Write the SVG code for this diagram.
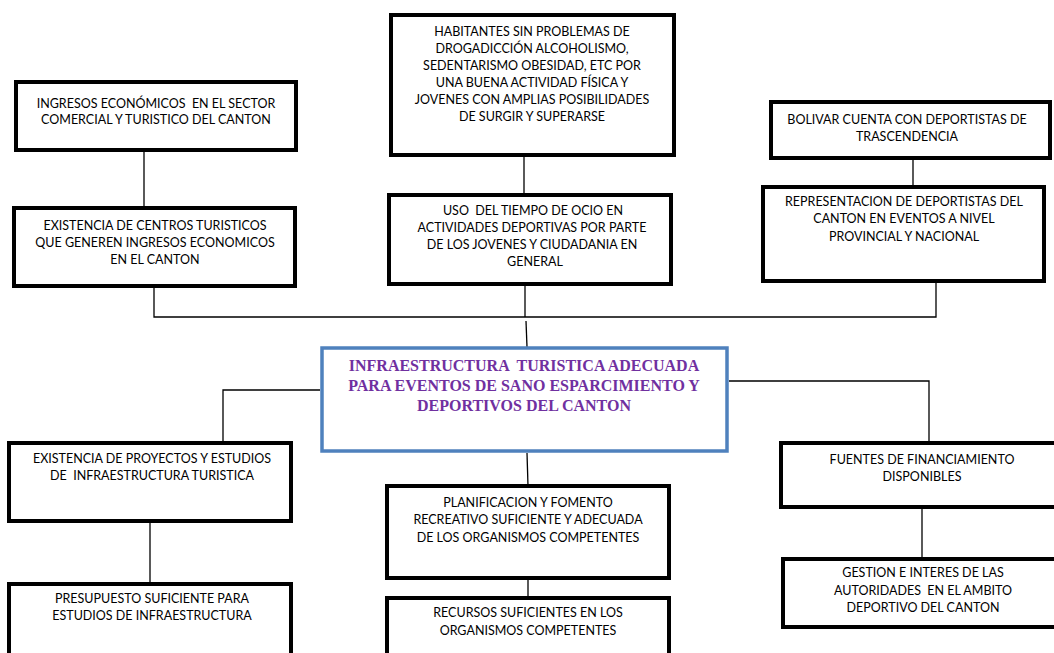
<svg xmlns="http://www.w3.org/2000/svg" width="1054" height="653" viewBox="0 0 1054 653">
<style>
.box{fill:#fff;stroke:#000;stroke-width:4}
.main{fill:#fff;stroke:#4F81BD;stroke-width:3.5}
text{white-space:pre}
.t{font-family:Lato,"Open Sans",sans-serif;font-size:12.5px;fill:#000;text-anchor:middle}
.m{font-family:"Liberation Serif","Times New Roman",serif;font-size:16px;font-weight:bold;fill:#7030A0;text-anchor:middle}
.c{fill:none;stroke:#000;stroke-width:1.3}
</style>
<rect width="1054" height="653" fill="#fff"/>
<g id="connectors">
<path class="c" d="M144 152V206"/>
<path class="c" d="M154 288V317H936V283"/>
<path class="c" d="M524 157V193"/>
<path class="c" d="M525 286V317"/>
<path class="c" d="M913 160V185"/>
<path class="c" d="M526 321L527 347"/>
<path class="c" d="M320 390H223V443"/>
<path class="c" d="M527 453L528 486"/>
<path class="c" d="M150 523V582"/>
<path class="c" d="M528 580V596"/>
<path class="c" d="M729 381H929V443"/>
<path class="c" d="M922 508V557"/>
</g>
<g id="n1">
<rect class="box" x="16" y="82" width="280" height="68"/>
<text class="t" x="156" y="108" xml:space="preserve">INGRESOS ECONÓMICOS  EN EL SECTOR</text>
<text class="t" x="156" y="124">COMERCIAL Y TURISTICO DEL CANTON</text>
</g>
<g id="n2">
<rect class="box" x="14" y="208" width="281" height="78"/>
<text class="t" x="155" y="230">EXISTENCIA DE CENTROS TURISTICOS</text>
<text class="t" x="155" y="247">QUE GENEREN INGRESOS ECONOMICOS</text>
<text class="t" x="155" y="264">EN EL CANTON</text>
</g>
<g id="n3">
<rect class="box" x="391" y="15" width="283" height="140"/>
<text class="t" x="532" y="36">HABITANTES SIN PROBLEMAS DE</text>
<text class="t" x="532" y="53">DROGADICCIÓN ALCOHOLISMO,</text>
<text class="t" x="532" y="70">SEDENTARISMO OBESIDAD, ETC POR</text>
<text class="t" x="532" y="87">UNA BUENA ACTIVIDAD FÍSICA Y</text>
<text class="t" x="532" y="104">JOVENES CON AMPLIAS POSIBILIDADES</text>
<text class="t" x="532" y="121">DE SURGIR Y SUPERARSE</text>
</g>
<g id="n4">
<rect class="box" x="389" y="195" width="282" height="89"/>
<text class="t" x="533" y="215" xml:space="preserve">USO  DEL TIEMPO DE OCIO EN</text>
<text class="t" x="532" y="232">ACTIVIDADES DEPORTIVAS POR PARTE</text>
<text class="t" x="532" y="249">DE LOS JOVENES Y CIUDADANIA EN</text>
<text class="t" x="535" y="266">GENERAL</text>
</g>
<g id="n5">
<rect class="box" x="771" y="102" width="279" height="56"/>
<text class="t" x="907" y="124">BOLIVAR CUENTA CON DEPORTISTAS DE</text>
<text class="t" x="907" y="141">TRASCENDENCIA</text>
</g>
<g id="n6">
<rect class="box" x="763" y="187" width="281" height="94"/>
<text class="t" x="904" y="206">REPRESENTACION DE DEPORTISTAS DEL</text>
<text class="t" x="904" y="223">CANTON EN EVENTOS A NIVEL</text>
<text class="t" x="904" y="241">PROVINCIAL Y NACIONAL</text>
</g>
<g id="center">
<rect class="main" x="322" y="348" width="405" height="103"/>
<text class="m" x="524" y="371" xml:space="preserve">INFRAESTRUCTURA  TURISTICA ADECUADA</text>
<text class="m" x="524" y="391">PARA EVENTOS DE SANO ESPARCIMIENTO Y</text>
<text class="m" x="524" y="411">DEPORTIVOS DEL CANTON</text>
</g>
<g id="n7">
<rect class="box" x="9" y="443" width="282" height="78"/>
<text class="t" x="152" y="463">EXISTENCIA DE PROYECTOS Y ESTUDIOS</text>
<text class="t" x="152" y="480" xml:space="preserve">DE  INFRAESTRUCTURA TURISTICA</text>
</g>
<g id="n8">
<rect class="box" x="9" y="584" width="282" height="80"/>
<text class="t" x="152" y="603">PRESUPUESTO SUFICIENTE PARA</text>
<text class="t" x="152" y="620">ESTUDIOS DE INFRAESTRUCTURA</text>
</g>
<g id="n9">
<rect class="box" x="387" y="486" width="282" height="92"/>
<text class="t" x="528" y="507">PLANIFICACION Y FOMENTO</text>
<text class="t" x="528" y="524">RECREATIVO SUFICIENTE Y ADECUADA</text>
<text class="t" x="528" y="542">DE LOS ORGANISMOS COMPETENTES</text>
</g>
<g id="n10">
<rect class="box" x="387" y="598" width="282" height="70"/>
<text class="t" x="528" y="617">RECURSOS SUFICIENTES EN LOS</text>
<text class="t" x="528" y="635">ORGANISMOS COMPETENTES</text>
</g>
<g id="n11">
<rect class="box" x="781" y="443" width="285" height="64"/>
<text class="t" x="922" y="464">FUENTES DE FINANCIAMIENTO</text>
<text class="t" x="922" y="481">DISPONIBLES</text>
</g>
<g id="n12">
<rect class="box" x="783" y="559" width="285" height="68"/>
<text class="t" x="923" y="577">GESTION E INTERES DE LAS</text>
<text class="t" x="923" y="595" xml:space="preserve">AUTORIDADES  EN EL AMBITO</text>
<text class="t" x="923" y="612">DEPORTIVO DEL CANTON</text>
</g>
</svg>
